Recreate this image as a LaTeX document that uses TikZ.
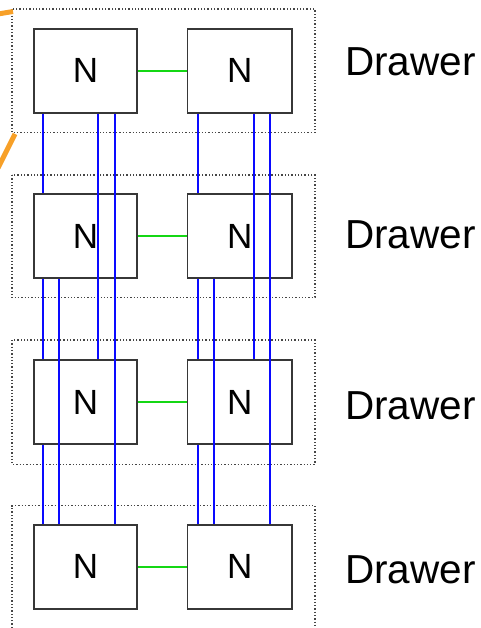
\documentclass[tikz,border=0pt]{standalone}
\usepackage{fontspec}
\setmainfont{Liberation Sans}
\definecolor{boxgray}{RGB}{55,55,55}
\definecolor{dotgray}{RGB}{70,70,70}
\definecolor{linkblue}{RGB}{10,10,255}
\definecolor{linkgreen}{RGB}{20,215,20}
\definecolor{callout}{RGB}{247,160,40}
\begin{document}
\begin{tikzpicture}[x=1pt,y=-1pt,
  nodebox/.style={draw=boxgray,line width=1.6pt,fill=white,minimum height=84pt,inner sep=0pt,font=\fontsize{35}{35}\selectfont},
  leftbox/.style={nodebox,minimum width=103pt},
  rightbox/.style={nodebox,minimum width=104.7pt},
  drawerbox/.style={draw=dotgray,line width=1.4pt,dash pattern=on 1.3pt off 2pt},
  drawerlabel/.style={anchor=base west,inner sep=0pt,font=\fontsize{40.5}{40.5}\selectfont},
  bl/.style={draw=linkblue,line width=2.4pt},
  gl/.style={draw=linkgreen,line width=2.4pt},
  ol/.style={draw=callout,line width=5pt}]
\useasboundingbox (0,0) rectangle (481,628);
% drawer boxes
\draw[drawerbox] (12,9) rectangle (315,132.7);
\draw[drawerbox] (12,175) rectangle (315,297.7);
\draw[drawerbox] (12,340) rectangle (315,464.3);
\draw[drawerbox] (12,628) -- (12,505.7) -- (315,505.7) -- (315,628);
% callout lines
\coordinate (o1) at (-2,14);
\coordinate (o2) at (13,11.5);
\coordinate (o3) at (15,134);
\coordinate (o4) at (-2,168);
\draw[ol] (o1) -- (o2);
\draw[ol] (o3) -- (o4);
% nodes
\node[leftbox]  (a1) at (85.5,70.8) {N};
\node[rightbox] (b1) at (239.7,70.8) {N};
\node[leftbox]  (a2) at (85.5,236) {N};
\node[rightbox] (b2) at (239.7,236) {N};
\node[leftbox]  (a3) at (85.5,402) {N};
\node[rightbox] (b3) at (239.7,402) {N};
\node[leftbox]  (a4) at (85.5,566.7) {N};
\node[rightbox] (b4) at (239.7,566.7) {N};
% green links
\draw[gl] (a1) -- (b1);
\draw[gl] (a2) -- (b2);
\draw[gl] (a3) -- (b3);
\draw[gl] (a4) -- (b4);
% blue links, left column
\draw[bl] ([xshift=9.5pt]a1.south west) -- ([xshift=9.5pt]a2.north west);
\draw[bl] ([xshift=9.5pt]a2.south west) -- ([xshift=9.5pt]a3.north west);
\draw[bl] ([xshift=9.5pt]a3.south west) -- ([xshift=9.5pt]a4.north west);
\draw[bl] ([xshift=26pt]a2.south west) -- ([xshift=26pt]a4.north west);
\draw[bl] ([xshift=65pt]a1.south west) -- ([xshift=65pt]a3.north west);
\draw[bl] ([xshift=82pt]a1.south west) -- ([xshift=82pt]a4.north west);
% blue links, right column
\draw[bl] ([xshift=11.7pt]b1.south west) -- ([xshift=11.7pt]b2.north west);
\draw[bl] ([xshift=11.7pt]b2.south west) -- ([xshift=11.7pt]b3.north west);
\draw[bl] ([xshift=11.7pt]b3.south west) -- ([xshift=11.7pt]b4.north west);
\draw[bl] ([xshift=27.7pt]b2.south west) -- ([xshift=27.7pt]b4.north west);
\draw[bl] ([xshift=67.7pt]b1.south west) -- ([xshift=67.7pt]b3.north west);
\draw[bl] ([xshift=83.4pt]b1.south west) -- ([xshift=83.4pt]b4.north west);
% labels
\node[drawerlabel] (d1) at (345,76) {Drawer};
\node[drawerlabel] (d2) at (345,248.3) {Drawer};
\node[drawerlabel] (d3) at (345,419.3) {Drawer};
\node[drawerlabel] (d4) at (345,583) {Drawer};
\end{tikzpicture}
\end{document}
